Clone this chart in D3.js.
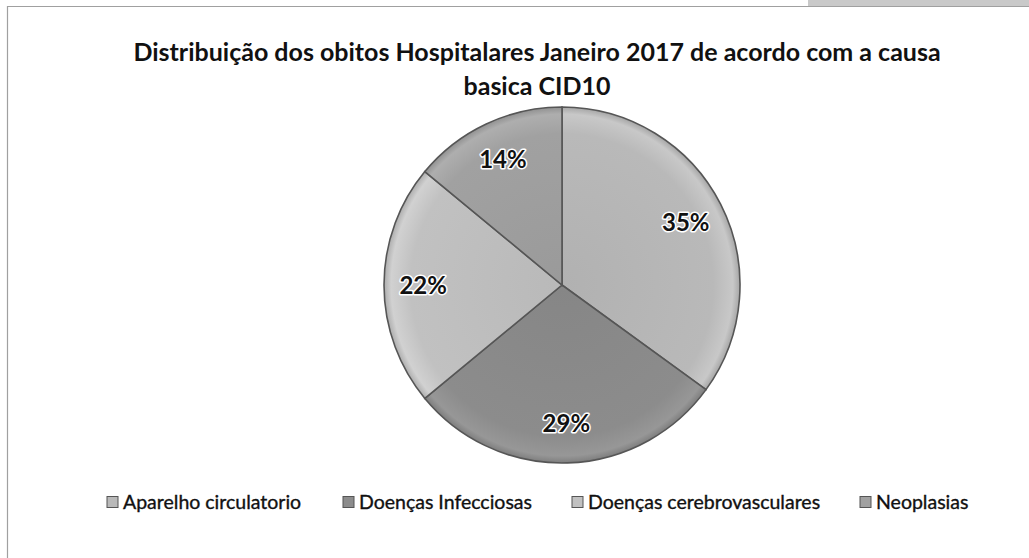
<!DOCTYPE html>
<html>
<head>
<meta charset="utf-8">
<script src="https://cdn.jsdelivr.net/npm/d3@7"></script>
<style>
  html, body { margin: 0; padding: 0; background: #fff; }
  svg { display: block; }
</style>
</head>
<body>
<svg id="chart" width="1029" height="558"></svg>
<script>
// Óbitos hospitalares, janeiro 2017, por causa básica (CID10)
const categories = ["Aparelho circulatorio", "Doenças Infecciosas", "Doenças cerebrovasculares", "Neoplasias"];
const percentages = [35, 29, 22, 14];
const sliceColors = ["#b9b9b9", "#8c8c8c", "#c1c1c1", "#a1a1a1"];
const titleLines = ["Distribuição dos obitos Hospitalares Janeiro 2017 de acordo com a causa", "basica CID10"];

const W = 1029, H = 558;
const svg = d3.select("#chart");
const font = "Lato, 'Open Sans', 'DejaVu Sans', sans-serif";

// page frame
svg.append("rect").attr("x", 808).attr("y", 0).attr("width", W - 808).attr("height", 6)
  .attr("fill", "#c9c9c9");
svg.append("path").attr("d", `M7.5,${H} V6.5 H${W}`)
  .attr("fill", "none").attr("stroke", "#a0a0a0").attr("stroke-width", 1.2);

// title
svg.append("text")
  .attr("text-anchor", "middle")
  .attr("font-family", font).attr("font-weight", "bold").attr("font-size", 25)
  .attr("fill", "#111")
  .selectAll("tspan").data(titleLines).join("tspan")
  .attr("x", 537).attr("y", (d, i) => 61 + i * 34)
  .text(d => d);

// pie
const cx = 562, cy = 285, R = 178;
const defs = svg.append("defs");
sliceColors.forEach((c, i) => {
  const g = defs.append("radialGradient").attr("id", "grad" + i)
    .attr("gradientUnits", "userSpaceOnUse")
    .attr("cx", 0).attr("cy", 0).attr("r", R);
  g.append("stop").attr("offset", "0%").attr("stop-color", d3.color(c).darker(0.12));
  g.append("stop").attr("offset", "85%").attr("stop-color", c);
  g.append("stop").attr("offset", "96%").attr("stop-color", d3.color(c).brighter(0.22));
  g.append("stop").attr("offset", "100%").attr("stop-color", d3.color(c).darker(0.3));
});

const pie = d3.pie().sort(null).value(d => d)(percentages);
const arc = d3.arc().innerRadius(0).outerRadius(R);
const g = svg.append("g").attr("transform", `translate(${cx},${cy})`);

g.selectAll("path.slice").data(pie).join("path")
  .attr("class", "slice")
  .attr("d", arc)
  .attr("fill", (d, i) => `url(#grad${i})`)
  .attr("stroke", "#565656").attr("stroke-width", 1.6);

// value labels
const labelArc = d3.arc().innerRadius(R * 0.78).outerRadius(R * 0.78);
g.selectAll("text.lbl").data(pie).join("text")
  .attr("class", "lbl")
  .attr("transform", d => `translate(${labelArc.centroid(d)})`)
  .attr("text-anchor", "middle").attr("dy", "0.36em")
  .attr("font-family", font).attr("font-weight", "bold").attr("font-size", 24)
  .attr("fill", "#111")
  .attr("stroke", "#fff").attr("stroke-width", 3).attr("stroke-linejoin", "round")
  .attr("paint-order", "stroke")
  .text(d => d.data + "%");

// legend
const legendX = [107, 343, 572, 860];
const legend = svg.append("g").selectAll("g").data(categories).join("g")
  .attr("transform", (d, i) => `translate(${legendX[i]},502)`);
legend.append("rect").attr("x", 0).attr("y", -5.5).attr("width", 11).attr("height", 11)
  .attr("fill", (d, i) => sliceColors[i]).attr("stroke", "#555").attr("stroke-width", 1);
legend.append("text").attr("x", 16).attr("dy", "0.35em")
  .attr("font-family", font).attr("font-size", 19.5).attr("fill", "#111")
  .attr("stroke", "#111").attr("stroke-width", 0.35)
  .text(d => d);
</script>
</body>
</html>
